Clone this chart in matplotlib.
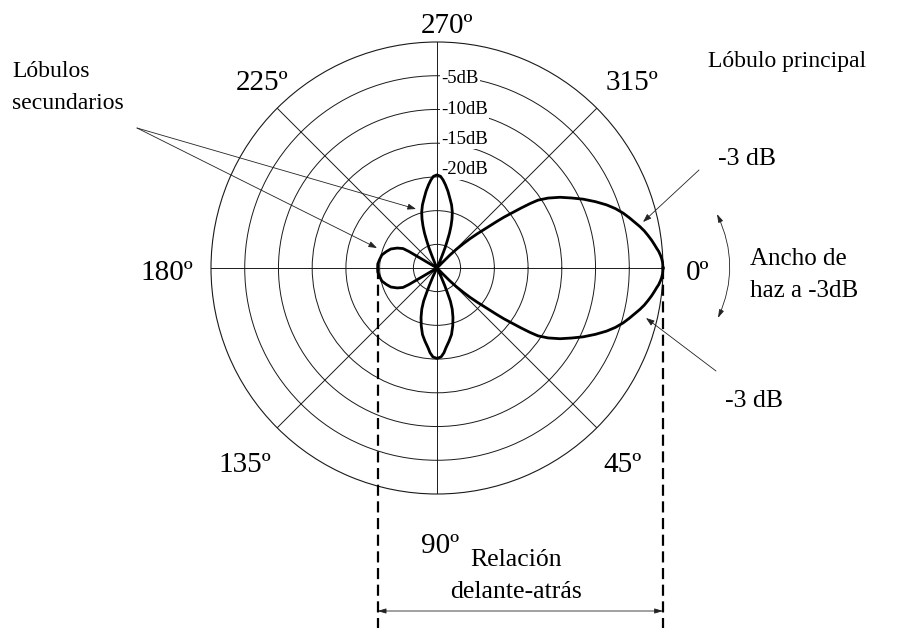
import matplotlib
matplotlib.use("Agg")
import matplotlib.pyplot as plt
from matplotlib.lines import Line2D
import numpy as np

plt.rcParams["font.family"] = ["Liberation Serif", "DejaVu Serif"]

# Radiation pattern in dB, angles clockwise from boresight (0 = right, 90 = down).
# Main lobe, lower edge (boresight -> first null)
main_lo_deg = [0, 1.5, 2.5, 3.3, 4.3, 5.1, 6.2, 7.4, 8.7, 10.1, 11.5, 13.0, 14.6, 16.4, 18.4,
               20.4, 22.7, 25.2, 27.5, 29.9, 32.2, 33.9, 34.7, 35.5, 36.3, 37.2, 37.9, 38.9,
               40.4, 41.6, 42.7, 44.0, 45.0, 45.5, 46.0]
main_lo_db = [0.0, -0.06, -0.18, -0.33, -0.55, -0.80, -1.10, -1.43, -1.83, -2.27, -2.79, -3.40,
              -4.02, -4.72, -5.62, -6.67, -8.03, -9.54, -11.02, -12.47, -14.05, -15.47, -16.74,
              -18.21, -19.70, -21.04, -22.29, -23.97, -25.72, -26.96, -28.19, -29.48, -30.78,
              -32.23, -33.5]
# Side lobe at 90
side_lo_deg = [64.0, 64.8, 66.2, 67.2, 68.0, 69.7, 72.1, 74.8, 77.7, 80.7, 83.6, 85.3, 87.4, 90.0,
               92.6, 94.7, 96.4, 99.3, 102.3, 105.2, 107.9, 110.3, 112.0, 112.8, 113.8, 115.2, 116.0]
side_lo_db = [-33.5, -32.1, -30.7, -29.5, -28.2, -27.0, -25.8, -24.6, -23.4, -22.5, -21.6, -20.9,
              -20.3, -20.1, -20.3, -20.9, -21.6, -22.5, -23.4, -24.6, -25.8, -27.0, -28.2, -29.5,
              -30.7, -32.1, -33.5]
# Back lobe at 180
back_deg = [148.5, 149.0, 149.4, 149.5, 150.2, 153.4, 157.6, 162.1, 166.7, 171.6, 176.1, 180.0,
            183.9, 188.4, 193.3, 197.9, 202.4, 206.6, 209.8, 210.5, 210.6, 211.0, 211.5]
back_db = [-33.5, -32.6, -31.4, -28.7, -27.7, -26.9, -26.1, -25.6, -25.1, -24.9, -24.7, -24.7,
           -24.7, -24.9, -25.1, -25.6, -26.1, -26.9, -27.7, -28.7, -31.4, -32.6, -33.5]
# Side lobe at 270
side_up_deg = [245.0, 246.0, 247.4, 248.2, 249.4, 250.3, 251.6, 253.0, 254.7, 257.0, 259.5, 261.9,
               264.2, 266.1, 267.8, 270.0, 272.2, 273.9, 275.8, 278.1, 280.5, 283.0, 285.3, 287.0,
               288.4, 289.7, 290.6, 291.8, 292.6, 294.0, 295.0]
side_up_db = [-33.5, -32.8, -31.6, -30.3, -29.1, -28.0, -26.9, -25.9, -24.9, -23.9, -23.0, -22.0,
              -21.1, -20.4, -19.9, -19.7, -19.9, -20.4, -21.1, -22.0, -23.0, -23.9, -24.9, -25.9,
              -26.9, -28.0, -29.1, -30.3, -31.6, -32.8, -33.5]
# Main lobe, upper edge (first null -> boresight)
main_up_deg = [314.0, 314.5, 315.0, 316.0, 317.3, 318.4, 319.6, 321.1, 322.1, 322.8, 323.7, 324.5,
               325.3, 326.1, 327.8, 330.1, 332.5, 334.8, 337.3, 339.6, 341.6, 343.6, 345.4, 347.0,
               348.5, 349.9, 351.3, 352.6, 353.8, 354.9, 355.7, 356.7, 357.5, 358.5, 360.0]
main_up_db = [-33.5, -32.23, -30.78, -29.48, -28.19, -26.96, -25.72, -23.97, -22.29, -21.04,
              -19.70, -18.21, -16.74, -15.47, -14.05, -12.47, -11.02, -9.54, -8.03, -6.67, -5.62,
              -4.72, -4.02, -3.40, -2.79, -2.27, -1.83, -1.43, -1.10, -0.80, -0.55, -0.33, -0.18,
              -0.06, 0.0]

ring_db = [-30, -25, -20, -15, -10, -5]
ring_label_db = [-5, -10, -15, -20]
ring_labels = ["-5dB", "-10dB", "-15dB", "-20dB"]

spoke_deg = [0, 45, 90, 135, 180, 225, 270, 315]
spoke_labels = ["0º", "45º", "90º", "135º", "180º", "225º", "270º", "315º"]

W, H = 914, 628
DB_MIN = -33.5


def P(x, y):
    """Top-left pixel position -> figure pixels."""
    return (x, H - y)


fig = plt.figure(figsize=(W / 100, H / 100), dpi=100)

cx, cy, rad = 437, 268, 226
ax = fig.add_axes([(cx - rad) / W, (H - cy - rad) / H, 2 * rad / W, 2 * rad / H],
                  projection="polar")
ax.set_theta_zero_location("E")
ax.set_theta_direction(-1)
ax.set_ylim(DB_MIN, 0)
ax.set_rticks(ring_db)
ax.set_yticklabels([])
ax.set_thetagrids(spoke_deg, labels=[""] * len(spoke_deg))
ax.tick_params(length=0)
ax.grid(True, color="#1a1a1a", lw=0.7)
ax.spines["polar"].set_linewidth(0.8)
ax.spines["polar"].set_color("#1a1a1a")

pattern_deg = main_lo_deg + side_lo_deg + back_deg + side_up_deg + main_up_deg
pattern_db = main_lo_db + side_lo_db + back_db + side_up_db + main_up_db
ax.plot(np.radians(pattern_deg), pattern_db, color="black", lw=2.0, zorder=5, clip_on=False)

# ring levels written along the 270º spoke
label_nudge = {-5: -2, -10: 0, -15: 3, -20: 5}
for db, lab in zip(ring_label_db, ring_labels):
    ax.annotate(lab, xy=(np.radians(270), db), xytext=(3, label_nudge[db]),
                textcoords="offset points", ha="left", va="center", fontsize=13.5,
                bbox=dict(boxstyle="square,pad=0.08", fc="white", ec="none"), zorder=4)

# angle labels round the outside
angle_pos = {
    "0º": (698, 280), "45º": (622, 472), "90º": (440, 553), "135º": (245, 472),
    "180º": (167, 280), "225º": (262, 90), "270º": (447, 33), "315º": (632, 90),
}
for lab in spoke_labels:
    x, y = angle_pos[lab]
    fig.text(x / W, 1 - y / H, lab, ha="center", va="baseline", fontsize=21)

# front and back lobe tips -> dashed guide lines down to the bottom edge
i_front = pattern_deg.index(0)
i_back = pattern_deg.index(180)
to_fig = fig.transFigure.inverted()
front = ax.transData.transform((np.radians(pattern_deg[i_front]), pattern_db[i_front]))
back = ax.transData.transform((np.radians(pattern_deg[i_back]), pattern_db[i_back]))
for px_, py_ in (front, back):
    (fx, fy), = to_fig.transform([(px_, py_)])
    fig.add_artist(Line2D([fx, fx], [fy, 0], color="black", lw=1.6,
                          linestyle=(0, (5, 2.5))))

arrow = dict(arrowstyle="-|>,head_length=0.5,head_width=0.18", lw=0.6, color="#222222",
             shrinkA=0, shrinkB=0)

# front-to-back ratio dimension line
fig.text(516 / W, 1 - 566 / H, "Relación", ha="center", va="baseline", fontsize=18.5)
fig.text(516 / W, 1 - 598 / H, "delante-atrás", ha="center", va="baseline", fontsize=18.5)
ax.annotate("", xy=(front[0], H - 611), xytext=(back[0], H - 611),
            xycoords="figure pixels", textcoords="figure pixels",
            arrowprops=dict(arrow, arrowstyle="<|-|>,head_length=0.5,head_width=0.15"))

# side lobes
fig.text(12 / W, 1 - 77 / H, "Lóbulos", ha="left", va="baseline", fontsize=17)
fig.text(12 / W, 1 - 109 / H, "secundarios", ha="left", va="baseline", fontsize=17)
for tip in [(416, 209), (377, 248)]:
    ax.annotate("", xy=P(*tip), xytext=P(137, 128), xycoords="figure pixels",
                textcoords="figure pixels", arrowprops=arrow)

# main lobe and -3 dB beamwidth
fig.text(708 / W, 1 - 67 / H, "Lóbulo principal", ha="left", va="baseline", fontsize=17)
fig.text(718 / W, 1 - 165 / H, "-3 dB", ha="left", va="baseline", fontsize=18.5)
fig.text(725 / W, 1 - 407 / H, "-3 dB", ha="left", va="baseline", fontsize=18.5)
ax.annotate("", xy=P(643, 222), xytext=P(699, 170), xycoords="figure pixels",
            textcoords="figure pixels", arrowprops=arrow)
ax.annotate("", xy=P(646, 318), xytext=P(716, 371), xycoords="figure pixels",
            textcoords="figure pixels", arrowprops=arrow)

fig.text(750 / W, 1 - 265 / H, "Ancho de", ha="left", va="baseline", fontsize=18)
fig.text(750 / W, 1 - 297 / H, "haz a -3dB", ha="left", va="baseline", fontsize=18)
ax.annotate("", xy=P(718, 318), xytext=P(717, 214), xycoords="figure pixels",
            textcoords="figure pixels",
            arrowprops=dict(arrow, arrowstyle="<|-|>,head_length=0.5,head_width=0.15",
                            connectionstyle="arc3,rad=-0.23"))

fig.savefig("out.png", dpi=100, facecolor="white")
